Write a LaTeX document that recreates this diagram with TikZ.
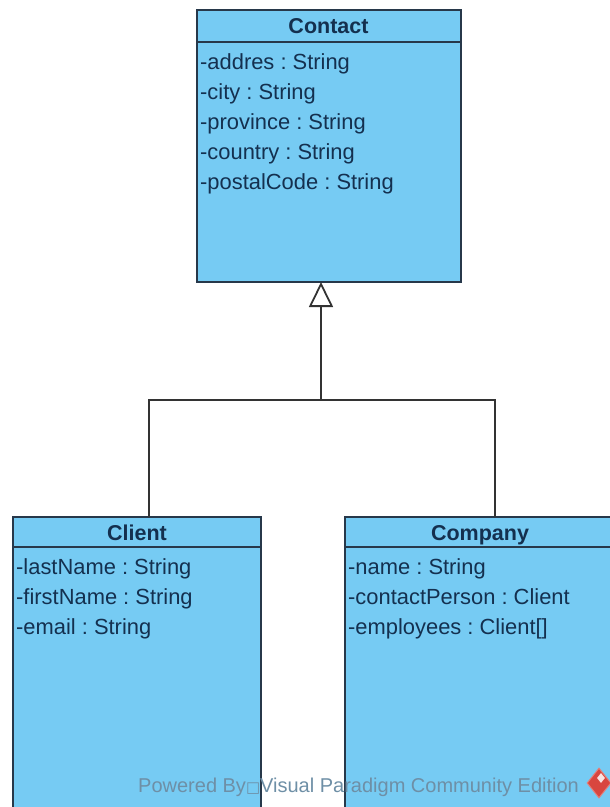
\documentclass[tikz,border=0pt]{standalone}
\usepackage{fontspec}
\setmainfont{Liberation Sans}
\newfontfamily\symbolfont{DejaVu Sans}
\usepackage{tikz}
\usetikzlibrary{arrows.meta, positioning, shapes.geometric}
\definecolor{classfill}{HTML}{76CBF3}
\definecolor{classline}{HTML}{27384A}
\definecolor{classtext}{HTML}{14304F}
\definecolor{markcolor}{HTML}{6E8FA6}
\definecolor{logored}{HTML}{D8463F}

\tikzset{
    classbox/.style={draw=classline, line width=1.8pt, fill=classfill, rectangle, inner sep=0pt, outer sep=0pt, anchor=north west},
    classname/.style={font=\fontsize{21.5}{24}\selectfont\bfseries, text=classtext, anchor=base},
    attr/.style={font=\fontsize{21.9}{24}\selectfont\frenchspacing, text=classtext, anchor=base west, inner sep=0pt},
    link/.style={draw=black!80, line width=1.8pt},
}

\begin{document}
\begin{tikzpicture}[x=1pt, y=-1pt]
    \useasboundingbox (0,0) rectangle (610,807);
    \clip (0,0) rectangle (610,807);

    % Classes
    \node[classbox, minimum width=264pt, minimum height=272pt] (contact) at (197,10) {};
    \node[classbox, minimum width=248pt, minimum height=320pt] (client) at (13,517) {};
    \node[classbox, minimum width=280pt, minimum height=320pt] (company) at (345,517) {};

    % Header lines
    \draw[classline, line width=1.8pt] (197,42) -- (461,42);
    \draw[classline, line width=1.8pt] (13,547) -- (261,547);
    \draw[classline, line width=1.8pt] (345,547) -- (625,547);

    % Names
    \node[classname] (contactname) at (328.5,33) {Contact};
    \node[classname] (clientname) at (137,540) {Client};
    \node[classname] (companyname) at (480,540) {Company};

    % Attributes
    \node[attr] (addres) at (200,69) {-addres : String};
    \node[attr] (city) at (200,99) {-city : String};
    \node[attr] (province) at (200,129) {-province : String};
    \node[attr] (country) at (200,159) {-country : String};
    \node[attr] (postalcode) at (200,189) {-postalCode : String};

    \node[attr] (lastname) at (16,574) {-lastName : String};
    \node[attr] (firstname) at (16,604) {-firstName : String};
    \node[attr] (email) at (16,634) {-email : String};

    \node[attr] (name) at (348,574) {-name : String};
    \node[attr] (contactperson) at (348,604) {-contactPerson : Client};
    \node[attr] (employees) at (348,634) {-employees : Client[]};

    % Generalisation
    \coordinate (joint) at (321,400);
    \coordinate (clientdrop) at (149,400);
    \coordinate (companydrop) at (495,400);
    \draw[link, -{Triangle[open, fill=white, length=25pt, width=24pt, line width=1.8pt]}] (joint) -- (joint |- contact.south);
    \draw[link] (clientdrop |- client.north) -- (clientdrop) -- (companydrop) -- (companydrop |- company.north);

    % Watermark
    \node[font=\fontsize{20}{22}\selectfont, text=markcolor, anchor=base west, inner sep=0pt] (powered) at (138,792) {Powered By{\symbolfont\fontsize{15}{16}\selectfont □}Visual Paradigm Community Edition};
    \node[diamond, fill=logored, draw=logored!70!white, line width=1pt, minimum width=24pt, minimum height=30pt, inner sep=0pt] (logo) at (599,783) {};
    \node[diamond, fill=white!85!logored, minimum width=8pt, minimum height=10pt, inner sep=0pt] (logomark) at (601,778) {};
\end{tikzpicture}
\end{document}
